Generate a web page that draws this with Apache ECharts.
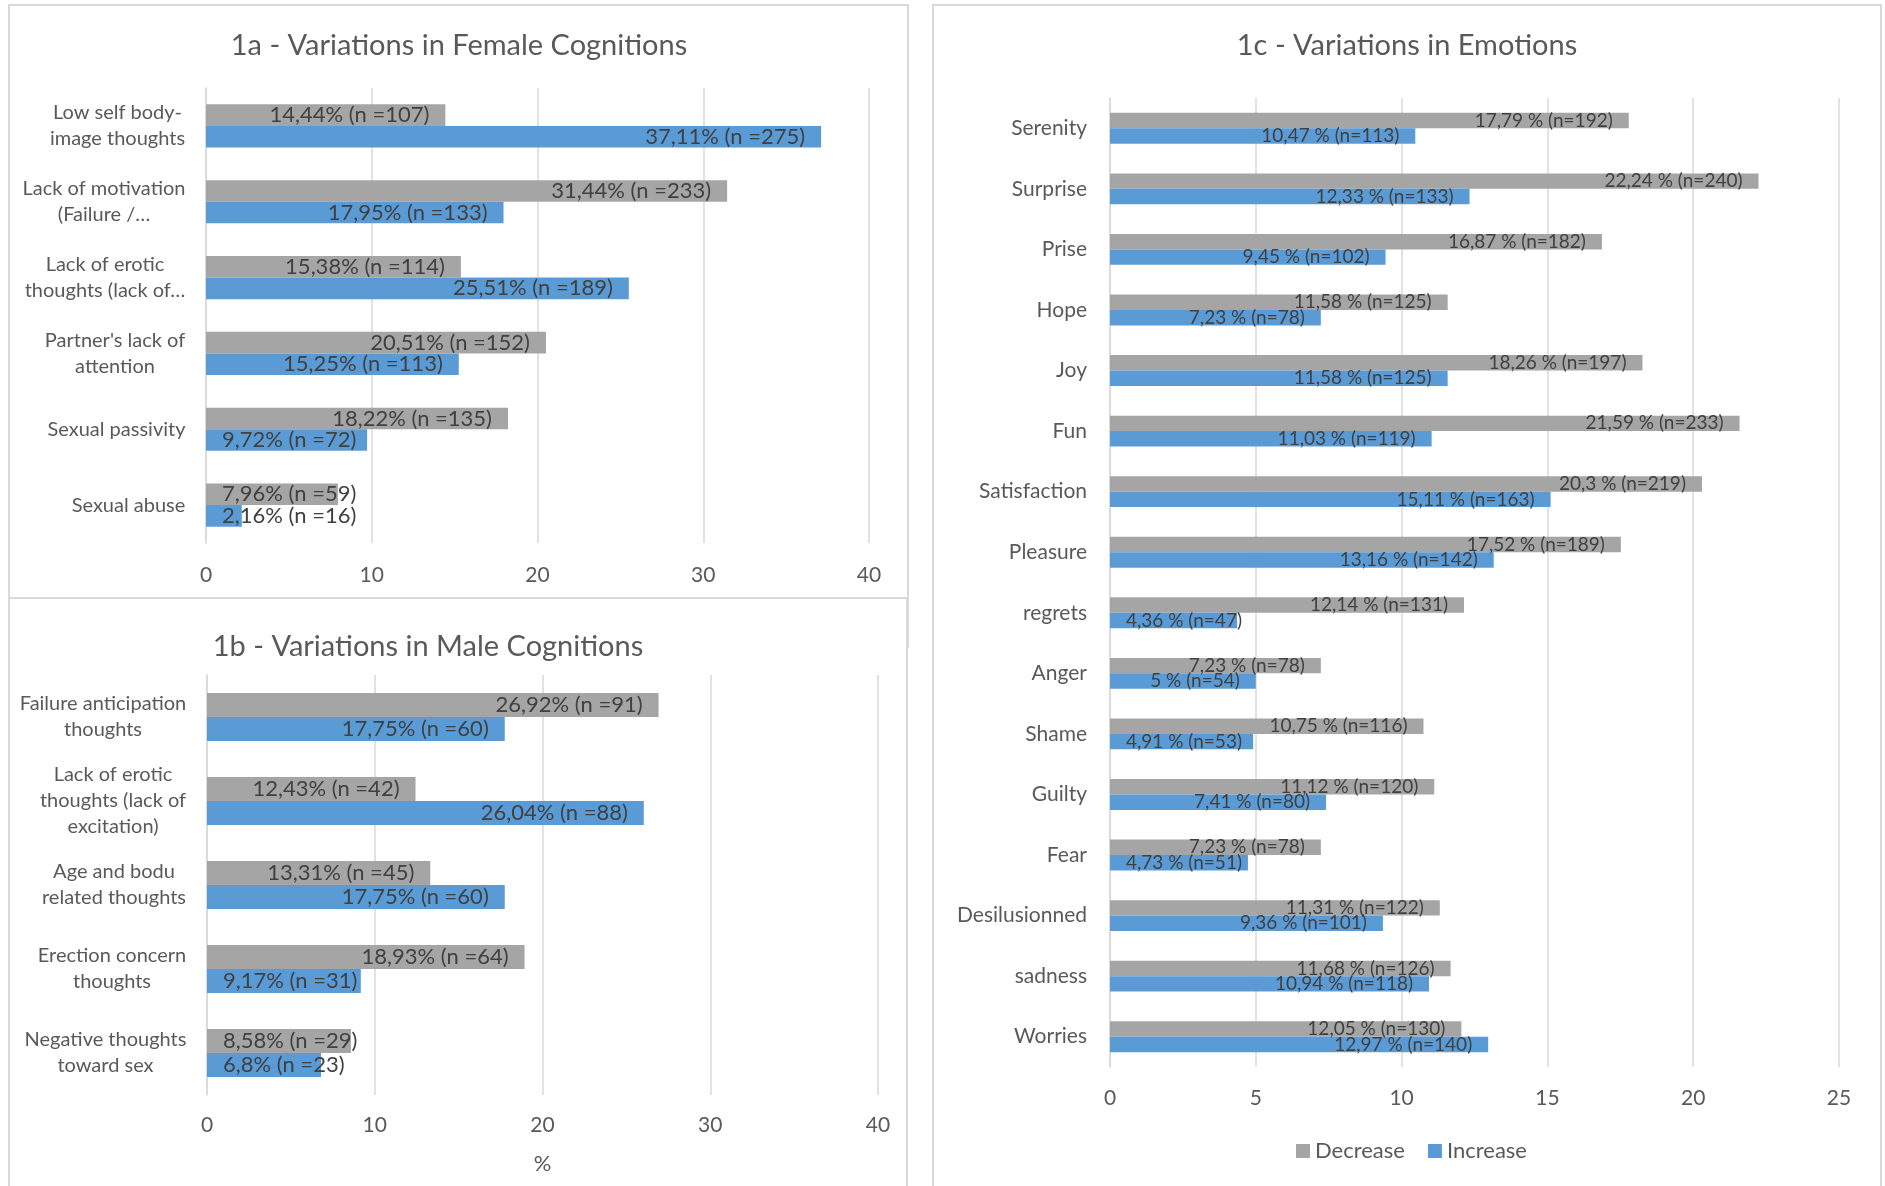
<!DOCTYPE html>
<html><head><meta charset="utf-8">
<script src="https://cdn.jsdelivr.net/npm/echarts@6/dist/echarts.min.js"></script>
<style>html,body{margin:0;padding:0;background:#fff}#c{width:1885px;height:1186px}</style>
</head><body><div id="c"></div>
<script>
const FONT = 'Lato';
const GRAY = '#A5A5A5', BLUE = '#5B9BD5';
const GRID_LINE = '#D9D9D9', AXIS_TXT = '#595959', LABEL_TXT = '#404040';

// ---- 1a Female cognitions ----
const femaleCategories = ["Low self body-\nimage thoughts", "Lack of motivation\n(Failure /\u2026", "Lack of erotic\nthoughts (lack of\u2026", "Partner's lack of\nattention", "Sexual passivity", "Sexual abuse"];
const femaleDecrease = [14.44, 31.44, 15.38, 20.51, 18.22, 7.96];
const femaleDecreaseN = [107, 233, 114, 152, 135, 59];
const femaleIncrease = [37.11, 17.95, 25.51, 15.25, 9.72, 2.16];
const femaleIncreaseN = [275, 133, 189, 113, 72, 16];

// ---- 1b Male cognitions ----
const maleCategories = ["Failure anticipation\nthoughts", "Lack of erotic\nthoughts (lack of\nexcitation)", "Age and bodu\nrelated thoughts", "Erection concern\nthoughts", "Negative thoughts\ntoward sex"];
const maleDecrease = [26.92, 12.43, 13.31, 18.93, 8.58];
const maleDecreaseN = [91, 42, 45, 64, 29];
const maleIncrease = [17.75, 26.04, 17.75, 9.17, 6.8];
const maleIncreaseN = [60, 88, 60, 31, 23];

// ---- 1c Emotions ----
const emotionCategories = ["Serenity", "Surprise", "Prise", "Hope", "Joy", "Fun", "Satisfaction", "Pleasure", "regrets", "Anger", "Shame", "Guilty", "Fear", "Desilusionned", "sadness", "Worries"];
const emotionDecrease = [17.79, 22.24, 16.87, 11.58, 18.26, 21.59, 20.3, 17.52, 12.14, 7.23, 10.75, 11.12, 7.23, 11.31, 11.68, 12.05];
const emotionDecreaseN = [192, 240, 182, 125, 197, 233, 219, 189, 131, 78, 116, 120, 78, 122, 126, 130];
const emotionIncrease = [10.47, 12.33, 9.45, 7.23, 11.58, 11.03, 15.11, 13.16, 4.36, 5, 4.91, 7.41, 4.73, 9.36, 10.94, 12.97];
const emotionIncreaseN = [113, 133, 102, 78, 125, 119, 163, 142, 47, 54, 53, 80, 51, 101, 118, 140];

const xTicks12 = { min: 0, max: 40, interval: 10 };
const xTicks3 = { min: 0, max: 25, interval: 5 };

const ctx = document.createElement('canvas').getContext('2d');
function textW(t, size) { ctx.font = size + 'px ' + FONT; return ctx.measureText(t).width; }
const comma = v => String(v).replace('.', ',');
const fmtCog = (v, n) => comma(v) + '% (n =' + n + ')';
const fmtEmo = (v, n) => comma(v) + ' % (n=' + n + ')';

function richFor(cats, size, lh) {
  const rich = {};
  cats.forEach((c, i) => {
    const w = Math.max(...c.split('\n').map(l => textW(l, size)));
    rich['w' + i] = { width: Math.ceil(w) + 1, align: 'center', fontSize: size, fontFamily: FONT, color: AXIS_TXT, lineHeight: lh };
  });
  return rich;
}
function centeredFormatter(v, i) { return v.split('\n').map(l => '{w' + i + '|' + l + '}').join('\n'); }

const PAD = 16;
const sets = [
  { grid: 0, name: 'Decrease', color: GRAY, vals: femaleDecrease, ns: femaleDecreaseN, fmt: fmtCog, fs: 22 },
  { grid: 0, name: 'Increase', color: BLUE, vals: femaleIncrease, ns: femaleIncreaseN, fmt: fmtCog, fs: 22 },
  { grid: 1, name: 'Decrease', color: GRAY, vals: maleDecrease, ns: maleDecreaseN, fmt: fmtCog, fs: 22 },
  { grid: 1, name: 'Increase', color: BLUE, vals: maleIncrease, ns: maleIncreaseN, fmt: fmtCog, fs: 22 },
  { grid: 2, name: 'Decrease', color: GRAY, vals: emotionDecrease, ns: emotionDecreaseN, fmt: fmtEmo, fs: 19 },
  { grid: 2, name: 'Increase', color: BLUE, vals: emotionIncrease, ns: emotionIncreaseN, fmt: fmtEmo, fs: 19 }
];
const gaps = ['43%', '43%', '49%'];

function buildSeries(posFn) {
  return sets.map((s, si) => ({
    type: 'bar', name: s.name, xAxisIndex: s.grid, yAxisIndex: s.grid,
    barGap: '0%', barCategoryGap: gaps[s.grid],
    itemStyle: { color: s.color },
    emphasis: { disabled: true },
    data: s.vals.map((v, i) => ({
      value: v,
      label: {
        show: true, position: posFn(si, i), distance: PAD,
        formatter: s.fmt(v, s.ns[i]),
        fontFamily: FONT, fontSize: s.fs, color: LABEL_TXT
      }
    }))
  }));
}

function xAxisCfg(grid, t, nameCfg, margin) {
  return Object.assign({
    type: 'value', gridIndex: grid, min: t.min, max: t.max, interval: t.interval,
    axisLine: { show: false }, axisTick: { show: false },
    splitLine: { lineStyle: { color: GRID_LINE, width: 1.5 } },
    axisLabel: { fontFamily: FONT, fontSize: 21, color: AXIS_TXT, margin: margin }
  }, nameCfg || {});
}
function yAxisCfg(grid, cats, margin, rich) {
  const cfg = {
    type: 'category', gridIndex: grid, data: cats, inverse: true,
    axisLine: { show: true, lineStyle: { color: GRID_LINE, width: 1.5 } }, axisTick: { show: false },
    axisLabel: { fontFamily: FONT, fontSize: 21, color: AXIS_TXT, margin: margin, interval: 0 }
  };
  if (rich) { cfg.axisLabel.rich = rich; cfg.axisLabel.formatter = centeredFormatter; }
  return cfg;
}

const option = {
  backgroundColor: '#fff',
  animation: false,
  title: [
    { text: '1a - Variations in Female Cognitions', left: 459, top: 31, textAlign: 'center', padding: 0, textStyle: { fontFamily: FONT, fontSize: 29, fontWeight: 'normal', color: AXIS_TXT } },
    { text: '1b - Variations in Male Cognitions', left: 428, top: 632, textAlign: 'center', padding: 0, textStyle: { fontFamily: FONT, fontSize: 29, fontWeight: 'normal', color: AXIS_TXT } },
    { text: '1c - Variations in Emotions', left: 1407, top: 31, textAlign: 'center', padding: 0, textStyle: { fontFamily: FONT, fontSize: 29, fontWeight: 'normal', color: AXIS_TXT } }
  ],
  legend: {
    data: ['Decrease', 'Increase'], left: 1296, top: 1140, padding: 0,
    icon: 'rect', itemWidth: 14, itemHeight: 14, itemGap: 23,
    textStyle: { fontFamily: FONT, fontSize: 22, color: AXIS_TXT }
  },
  grid: [
    { left: 206, top: 88, width: 663, height: 455 },
    { left: 207, top: 675, width: 671, height: 420 },
    { left: 1110, top: 98, width: 729, height: 969 }
  ],
  xAxis: [
    xAxisCfg(0, xTicks12, null, 22),
    xAxisCfg(1, xTicks12, { name: '%', nameLocation: 'middle', nameGap: 58, nameTextStyle: { fontFamily: FONT, fontSize: 22, color: AXIS_TXT } }, 20),
    xAxisCfg(2, xTicks3, null, 21)
  ],
  yAxis: [
    yAxisCfg(0, femaleCategories, 20, richFor(femaleCategories, 20, 26)),
    yAxisCfg(1, maleCategories, 20, richFor(maleCategories, 20, 26)),
    yAxisCfg(2, emotionCategories, 23, null)
  ],
  graphic: [
    { type: 'rect', shape: { x: 9, y: 5, width: 899, height: 593 }, style: { fill: 'none', stroke: GRID_LINE, lineWidth: 2 }, silent: true },
    { type: 'rect', shape: { x: 9, y: 598, width: 898, height: 600 }, style: { fill: 'none', stroke: GRID_LINE, lineWidth: 2 }, silent: true },
    { type: 'line', shape: { x1: 908, y1: 598, x2: 908, y2: 648 }, style: { stroke: GRID_LINE, lineWidth: 2 }, silent: true },
    { type: 'rect', shape: { x: 933, y: 5, width: 948, height: 1200 }, style: { fill: 'none', stroke: GRID_LINE, lineWidth: 2 }, silent: true }
  ],
  series: buildSeries(() => 'insideRight')
};

const chart = echarts.init(document.getElementById('c'));
chart.setOption(option);

// place labels like the original: inside end when they fit, else from the bar start
function pos(si, i) {
  const s = sets[si];
  const v = s.vals[i];
  const p1 = chart.convertToPixel({ xAxisIndex: s.grid }, v);
  const p0 = chart.convertToPixel({ xAxisIndex: s.grid }, 0);
  const len = p1 - p0;
  const w = textW(s.fmt(v, s.ns[i]), s.fs);
  return (w + 2 * PAD > len) ? 'insideLeft' : 'insideRight';
}
chart.setOption({ series: buildSeries(pos) });
</script>
</body></html>
